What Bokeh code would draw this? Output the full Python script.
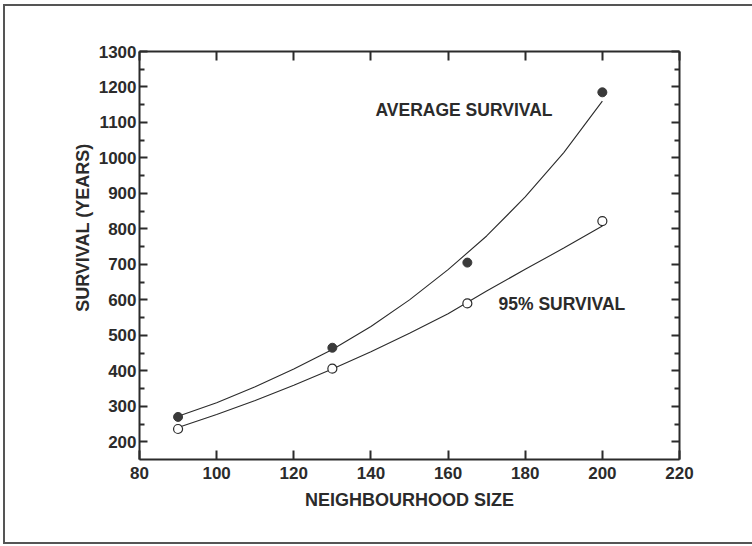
from bokeh.plotting import figure
from bokeh.models import Range1d, LinearAxis, FixedTicker, Label, Title
from bokeh.embed import file_html
from bokeh.resources import INLINE

# ---------------- data ----------------
neighbourhood = [90, 130, 165, 200]
avg_survival = [270, 465, 705, 1185]
p95_survival = [236, 406, 590, 822]

curve_x = [90, 100, 110, 120, 130, 140, 150, 160, 170, 180, 190, 200]
avg_curve = [272, 310, 355, 405, 460, 525, 600, 685, 780, 890, 1015, 1160]
p95_curve = [240, 277, 316, 359, 405, 454, 506, 561, 625, 686, 746, 808]

x_ticks = [80, 100, 120, 140, 160, 180, 200, 220]
y_ticks = [200, 300, 400, 500, 600, 700, 800, 900, 1000, 1100, 1200, 1300]
y_minor = [250, 350, 450, 550, 650, 750, 850, 950, 1050, 1150, 1250]

x_title = "NEIGHBOURHOOD SIZE"
y_title = "SURVIVAL (YEARS)"
label_avg = "AVERAGE SURVIVAL"
label_95 = "95% SURVIVAL"

# ---------------- layout ----------------
W, H = 752, 546
FL, FR, FT, FB = 139, 679, 51, 459          # frame pixel edges
X0, X1, Y0, Y1 = 80, 220, 150, 1300
INK = "#2b2b2b"
FONT = "Liberation Sans"


def px_to_x(px):
    return X0 + (px - FL) * (X1 - X0) / (FR - FL)


def py_to_y(py):
    return Y1 - (py - FT) * (Y1 - Y0) / (FB - FT)


p = figure(width=W, height=H, output_backend="svg", toolbar_location=None,
           x_range=Range1d(X0, X1), y_range=Range1d(Y0, Y1),
           x_axis_location=None, y_axis_location=None,
           min_border_left=FL, min_border_right=W - FR,
           min_border_top=FT, min_border_bottom=H - FB)
p.grid.visible = False
p.outline_line_color = None
p.background_fill_color = "white"
p.border_fill_color = None
# page border (left, top, bottom edges of the scanned page)
p.styles = {
    "background": ("linear-gradient(#555,#555) 3px 4px / 2px 540px no-repeat, "
                   "linear-gradient(#555,#555) 3px 4px / 760px 2px no-repeat, "
                   "linear-gradient(#555,#555) 3px 542px / 760px 2px no-repeat, "
                   "white"),
}


def make_axis(ticks, minor, labels=True):
    ax = LinearAxis(ticker=FixedTicker(ticks=ticks, minor_ticks=minor))
    ax.axis_line_color = INK
    ax.axis_line_width = 2
    ax.major_tick_line_color = INK
    ax.major_tick_line_width = 2
    ax.minor_tick_line_color = INK
    ax.minor_tick_line_width = 2
    ax.major_tick_out = 0
    ax.minor_tick_out = 0
    ax.major_label_text_font = FONT
    ax.major_label_text_font_style = "bold"
    ax.major_label_text_font_size = "17px"
    ax.major_label_text_color = INK if labels else None
    return ax


left = make_axis(y_ticks, y_minor)
left.major_tick_in = 8
left.minor_tick_in = 5
left.major_label_standoff = 3
p.add_layout(left, "left")

right = make_axis(y_ticks, y_minor, labels=False)
right.major_tick_in = 8
right.minor_tick_in = 5
p.add_layout(right, "right")

bottom = make_axis(x_ticks, [])
bottom.major_tick_in = 9
bottom.major_label_standoff = 7
bottom.axis_label = x_title
bottom.axis_label_text_font = FONT
bottom.axis_label_text_font_style = "bold"
bottom.axis_label_text_font_size = "18px"
bottom.axis_label_text_color = INK
bottom.axis_label_standoff = 8
p.add_layout(bottom, "below")

top = make_axis(x_ticks, [], labels=False)
top.major_tick_in = 9
p.add_layout(top, "above")

# y axis title (its top end sits well below the frame top, as in the original)
p.add_layout(Title(text=y_title, align="right", offset=92, standoff=5,
                   text_font=FONT, text_font_style="bold", text_font_size="18px",
                   text_color=INK), "left")

# fitted curves
p.line(curve_x, avg_curve, line_color=INK, line_width=1.1)
p.line(curve_x, p95_curve, line_color=INK, line_width=1.1)

# points
p.scatter(neighbourhood, avg_survival, marker="circle", size=9,
          fill_color="#3a3a3a", line_color="#3a3a3a")
p.scatter(neighbourhood, p95_survival, marker="circle", size=9,
          fill_color="white", line_color=INK, line_width=1.2)

# in-plot labels
p.add_layout(Label(x=px_to_x(375), y=py_to_y(109), text=label_avg,
                   text_font=FONT, text_font_style="bold", text_font_size="17.5px",
                   text_color=INK, text_align="left", text_baseline="middle"))
p.add_layout(Label(x=px_to_x(498), y=py_to_y(303), text=label_95,
                   text_font=FONT, text_font_style="bold", text_font_size="17.5px",
                   text_color=INK, text_align="left", text_baseline="middle"))

open("out.html", "w").write(file_html(p, INLINE))
